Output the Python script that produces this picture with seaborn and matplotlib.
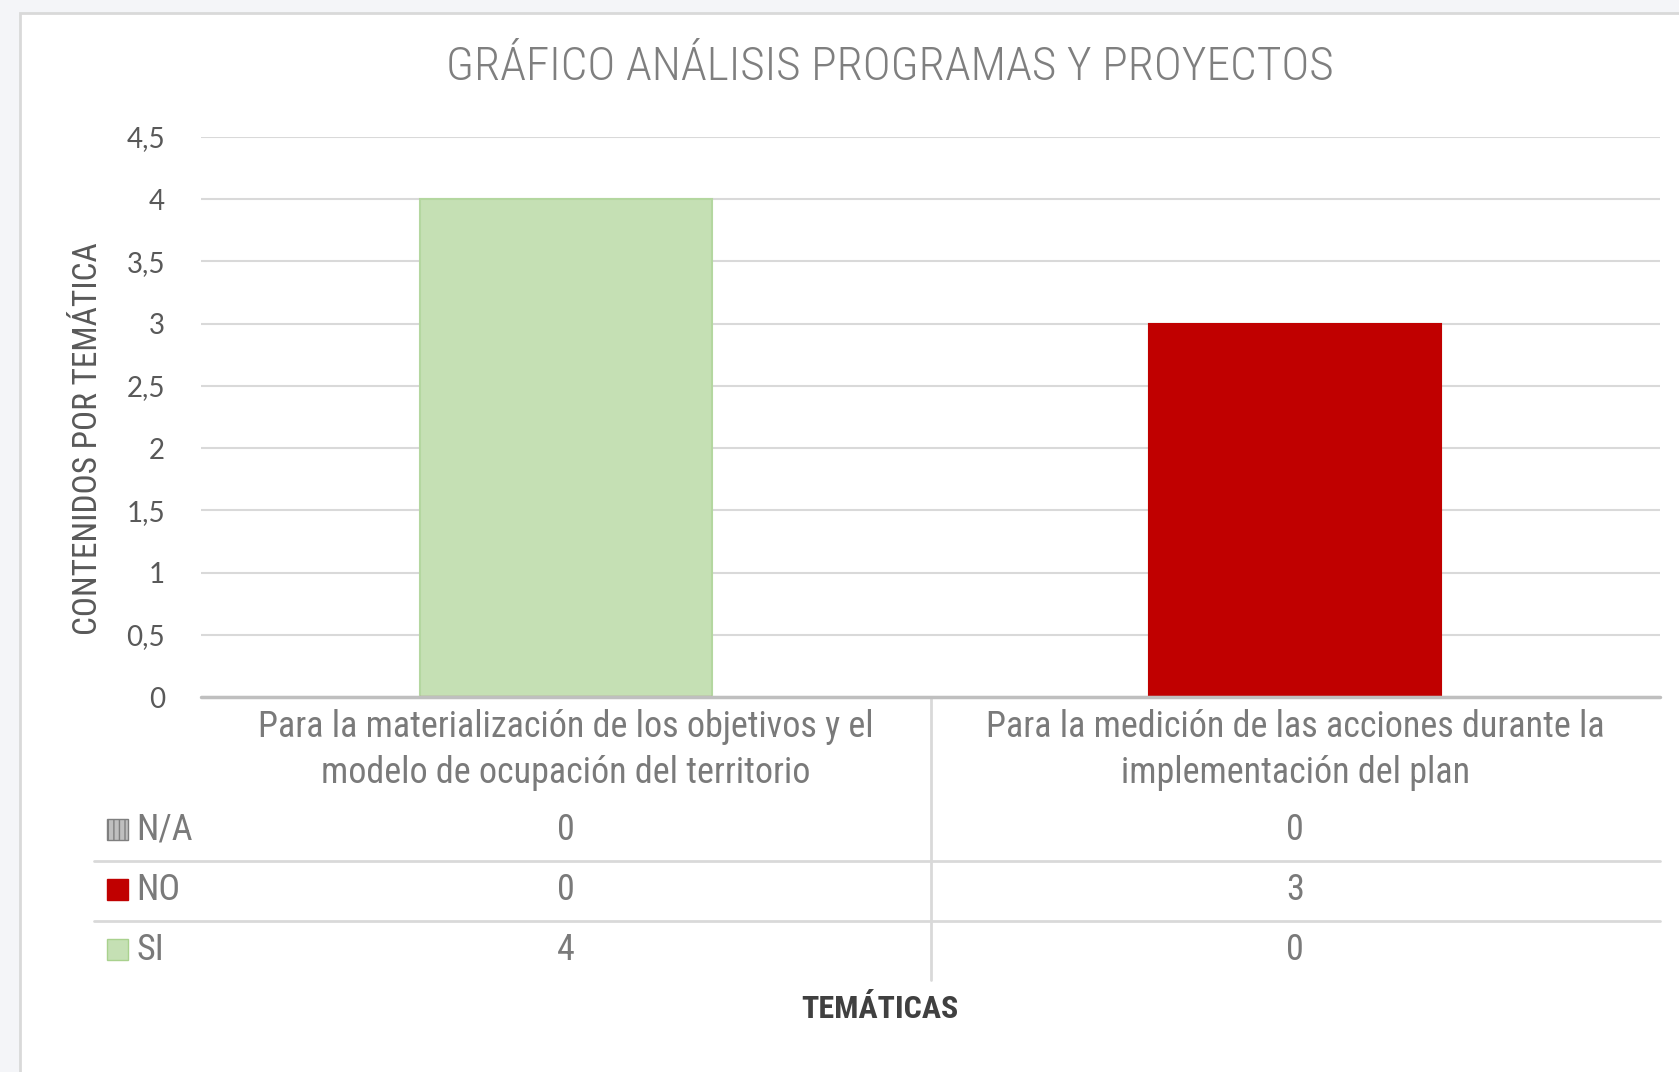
import numpy as np
import pandas as pd
import matplotlib
matplotlib.use("Agg")
import matplotlib.pyplot as plt
import matplotlib.transforms as mtransforms
from matplotlib.patches import Rectangle
from matplotlib.lines import Line2D
from matplotlib.ticker import FuncFormatter, MultipleLocator
from matplotlib import font_manager
import seaborn as sns

# datos del gráfico
categorias = [
    "Para la materialización de los objetivos y el\nmodelo de ocupación del territorio",
    "Para la medición de las acciones durante la\nimplementación del plan",
]
series = ["N/A", "NO", "SI"]
valores_na = [0, 0]
valores_no = [0, 3]
valores_si = [4, 0]

titulo = "GRÁFICO ANÁLISIS PROGRAMAS Y PROYECTOS"
eje_y = "CONTENIDOS POR TEMÁTICA"
eje_x = "TEMÁTICAS"

sns.set_style("white")

# fuente estrecha si existe
nombres = {f.name for f in font_manager.fontManager.ttflist}
estrecha = "DejaVu Sans"
for cand in ["Roboto Condensed", "Liberation Sans Narrow", "Open Sans Condensed", "Noto Sans Condensed"]:
    if cand in nombres:
        estrecha = cand
        break
plt.rcParams["font.family"] = ["Lato", "DejaVu Sans"]

W, H = 1679, 1072
fig = plt.figure(figsize=(W / 100, H / 100), dpi=100, facecolor="#F4F5F8")

def fx(px):
    return px / W

def fy(py):
    return 1 - py / H

# marco blanco del gráfico
fig.add_artist(Rectangle((fx(20), -0.01), 1.0, fy(13) + 0.01, transform=fig.transFigure,
                         facecolor="white", edgecolor="#D9D9D9", lw=2, zorder=0))

ax = fig.add_axes([fx(201), fy(697), fx(1660) - fx(201), fy(137) - fy(697)])
ax.set_facecolor("none")

df = pd.DataFrame({"categoria": categorias, "N/A": valores_na, "NO": valores_no, "SI": valores_si})
df["tope_si"] = df["N/A"] + df["NO"] + df["SI"]
df["tope_no"] = df["N/A"] + df["NO"]

verde, rojo, gris = "#C5E0B4", "#C00000", "#BFBFBF"
sns.barplot(data=df, x="categoria", y="tope_si", color=verde, width=0.40,
            edgecolor="#B4D7A0", linewidth=1.5, saturation=1, ax=ax, zorder=2)
sns.barplot(data=df, x="categoria", y="tope_no", color=rojo, width=0.40,
            edgecolor=rojo, linewidth=1.5, saturation=1, ax=ax, zorder=2)
sns.barplot(data=df, x="categoria", y="N/A", color=gris, width=0.40,
            edgecolor="#7F7F7F", linewidth=1.5, saturation=1, hatch="|||", ax=ax, zorder=2)

ax.set_ylim(0, 4.5)
ax.set_xlim(-0.5, 1.5)
ax.yaxis.set_major_locator(MultipleLocator(0.5))
ax.yaxis.set_major_formatter(FuncFormatter(lambda v, p: f"{v:g}".replace(".", ",")))
ax.yaxis.grid(True, color="#D9D9D9", lw=1.5, zorder=0)
ax.set_axisbelow(True)
ax.axhline(0, color="#BFBFBF", lw=2.5, clip_on=False, zorder=3)
for s in ax.spines.values():
    s.set_visible(False)
ax.tick_params(axis="y", length=0, pad=26, labelsize=20, labelcolor="#595959")
ax.set_xticks([])
ax.set_xlabel("")
ax.set_ylabel("")

gris_txt = "#7A7A7A"

# título
fig.text(fx(890), fy(67), titulo, ha="center", va="center", fontsize=34,
         color="#7F7F7F", family=estrecha, weight="light")

# título eje y
fig.text(fx(88), fy(439), eje_y, ha="center", va="center", rotation=90,
         fontsize=24, color="#595959", family=estrecha)

# tabla de datos
trans = mtransforms.blended_transform_factory(ax.transData, fig.transFigure)
for i, cat in enumerate(categorias):
    ax.text(i, fy(750), cat, transform=trans, ha="center", va="center", fontsize=26,
            color=gris_txt, family=estrecha, linespacing=1.38)

filas = [("N/A", valores_na, 830), ("NO", valores_no, 890), ("SI", valores_si, 950)]
for nombre, vals, ypx in filas:
    for i, v in enumerate(vals):
        ax.text(i, fy(ypx), str(v), transform=trans, ha="center", va="center",
                fontsize=26, color=gris_txt, family=estrecha)
    fig.text(fx(136), fy(ypx), nombre, ha="left", va="center", fontsize=26,
             color=gris_txt, family=estrecha)

claves = {"N/A": (gris, "#7F7F7F", "|||"), "NO": (rojo, rojo, None), "SI": (verde, "#A9D18E", None)}
for nombre, vals, ypx in filas:
    fc, ec, ht = claves[nombre]
    fig.add_artist(Rectangle((fx(107), fy(ypx + 10)), fx(21), 21 / H, transform=fig.transFigure,
                             facecolor=fc, edgecolor=ec, lw=1, hatch=ht))

for ypx in [861, 921]:
    fig.add_artist(Line2D([fx(94), fx(1660)], [fy(ypx), fy(ypx)], transform=fig.transFigure,
                          color="#D9D9D9", lw=2))
ax.add_artist(Line2D([0.5, 0.5], [fy(697), fy(980)], transform=trans, color="#D9D9D9",
                     lw=2, clip_on=False))

fig.text(fx(880), fy(1009), eje_x, ha="center", va="center", fontsize=23,
         color="#404040", family=estrecha, weight="bold")

fig.savefig("out.png", dpi=100, facecolor=fig.get_facecolor())
